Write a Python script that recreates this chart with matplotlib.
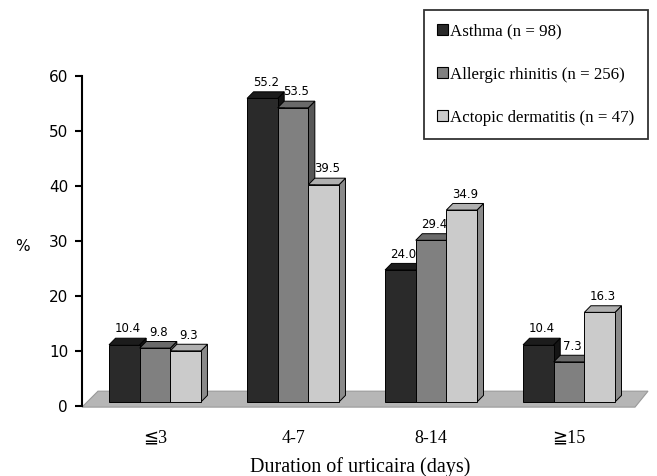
import matplotlib.pyplot as plt
import numpy as np
from matplotlib.patches import Polygon, Rectangle

# data
categories = ["\u2266" + "3", "4-7", "8-14", "\u2267" + "15"]
series_names = [
    "Asthma (n = 98)",
    "Allergic rhinitis (n = 256)",
    "Actopic dermatitis (n = 47)",
]
asthma = [10.4, 55.2, 24.0, 10.4]
rhinitis = [9.8, 53.5, 29.4, 7.3]
dermatitis = [9.3, 39.5, 34.9, 16.3]
y_ticks = [0, 10, 20, 30, 40, 50, 60]

series = [asthma, rhinitis, dermatitis]
front_colors = ["#2a2a2a", "#808080", "#cbcbcb"]
top_colors = ["#1c1c1c", "#6a6a6a", "#b0b0b0"]
side_colors = ["#141414", "#575757", "#8a8a8a"]

bar_w = 0.222
depth_x = 0.047  # fake 3d depth in data units
depth_y = 1.2
base = 0.73

fig = plt.figure(figsize=(6.57, 4.76), dpi=100)
ax = fig.add_axes([0.1248, 0.1297, 0.8676, 0.803])
ax.set_xlim(-0.529, 3.601)
ax.set_ylim(-1.5, 68)

# grey floor
floor = Polygon(
    [(-0.529, -0.2), (3.478, -0.2), (3.572, 2.7), (-0.413, 2.7)],
    closed=True, facecolor="#b6b6b6", edgecolor="#9a9a9a", lw=0.8, zorder=1,
)
ax.add_patch(floor)

x = np.arange(len(categories))
z = 2
for g in range(len(categories)):
    for i, vals in enumerate(series):
        x0 = x[g] + (i - 1.5) * bar_w
        x1 = x0 + bar_w
        top = base + vals[g]
        side = Polygon(
            [(x1, base), (x1 + depth_x, base + depth_y),
             (x1 + depth_x, top + depth_y), (x1, top)],
            closed=True, facecolor=side_colors[i], edgecolor="black",
            lw=0.7, zorder=z,
        )
        lid = Polygon(
            [(x0, top), (x1, top), (x1 + depth_x, top + depth_y),
             (x0 + depth_x, top + depth_y)],
            closed=True, facecolor=top_colors[i], edgecolor="black",
            lw=0.7, zorder=z,
        )
        front = Rectangle(
            (x0, base), bar_w, vals[g], facecolor=front_colors[i],
            edgecolor="black", lw=0.7, zorder=z + 1,
        )
        ax.add_patch(side)
        ax.add_patch(lid)
        ax.add_patch(front)
        ax.text(x0 + bar_w / 2 + depth_x / 2, top + depth_y + 0.5,
                f"{vals[g]:.1f}", ha="center", va="bottom", fontsize=8.5,
                family="DejaVu Sans", zorder=z + 2)
        z += 3

ax.spines[["top", "right", "bottom"]].set_visible(False)
ax.spines["left"].set_bounds(0, 60)
ax.spines["left"].set_linewidth(1.5)
ax.set_yticks(y_ticks)
ax.tick_params(axis="y", length=5, width=1.5, labelsize=11, pad=5)
ax.set_xticks(x)
ax.set_xticklabels(categories, fontsize=13,
                   family=["Liberation Serif", "DejaVu Sans"])
ax.tick_params(axis="x", length=0, pad=11)
ax.set_ylabel("%", rotation=0, fontsize=11, va="center")
ax.yaxis.set_label_coords(-0.105, (29 + 1.5) / 69.5)
ax.set_xlabel("Duration of urticaira (days)", fontsize=14.5,
              family="Liberation Serif")
ax.xaxis.set_label_coords((360 - 82) / 570, -0.112)

handles = [Rectangle((0, 0), 1, 1, facecolor=c, edgecolor="black", lw=0.8)
           for c in front_colors]
leg = fig.legend(
    handles, series_names, loc="upper right",
    bbox_to_anchor=(648 / 657, 1 - 10 / 476), frameon=True, fancybox=False,
    edgecolor="black", prop={"family": "Liberation Serif", "size": 12.2},
    handlelength=0.6, handleheight=0.6, handletextpad=0.15,
    labelspacing=1.6, borderpad=0.8, borderaxespad=0,
)
leg.get_frame().set_linewidth(1.3)

plt.savefig("out.png", dpi=100)
plt.close()
